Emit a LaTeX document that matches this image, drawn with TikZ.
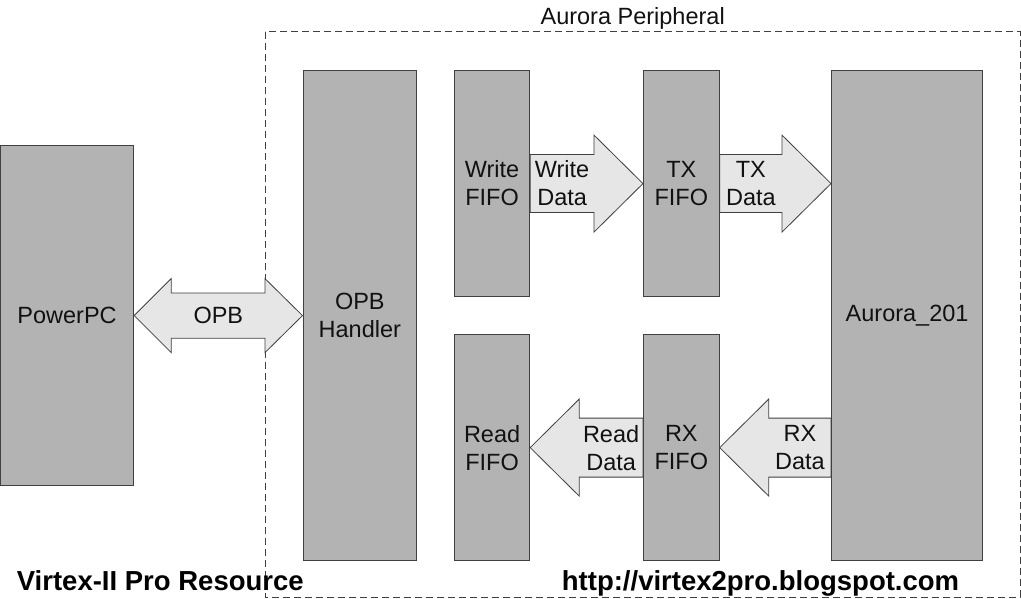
\documentclass[tikz,border=0pt]{standalone}
\usepackage{fontspec}
\setmainfont{Liberation Sans}
\usetikzlibrary{calc,backgrounds}
\definecolor{boxfill}{HTML}{B3B3B3}
\definecolor{arrfill}{HTML}{E6E6E6}
\definecolor{edge}{HTML}{404040}
\definecolor{ink}{HTML}{111111}
\tikzset{
  blk/.style={draw=edge, line width=1.2pt, fill=boxfill, inner sep=0pt, anchor=north west,
    text=ink, align=center, font=\fontsize{23.5}{28}\selectfont},
  barrow/.style={draw=edge, line width=0.8pt, fill=arrfill, line join=miter},
  albl/.style={text=ink, align=center, font=\fontsize{23.5}{28}\selectfont, inner sep=0pt},
  frame/.style={draw=edge, line width=1pt, dash pattern=on 7pt off 4pt},
  foot/.style={text=black, font=\bfseries\fontsize{27.5}{32}\selectfont, inner sep=0pt}
}
\begin{document}
\begin{tikzpicture}[x=1pt,y=-1pt]
\useasboundingbox (0,0) rectangle (1021,599);
% blocks
\node[blk, minimum width=133pt, minimum height=340pt] (ppc) at (0,145) {PowerPC};
\node[blk, minimum width=113.5pt, minimum height=490pt] (opb) at (302.5,70) {OPB\\Handler};
\node[blk, minimum width=75pt, minimum height=226pt] (wf) at (454,70) {Write\\FIFO};
\node[blk, minimum width=75.5pt, minimum height=226pt] (tx) at (643,70) {TX\\FIFO};
\node[blk, minimum width=151pt, minimum height=490pt] (aur) at (831,70) {Aurora\_201};
\node[blk, minimum width=75pt, minimum height=226pt] (rd) at (454,334) {Read\\FIFO};
\node[blk, minimum width=75.5pt, minimum height=226pt] (rx) at (643,334) {RX\\FIFO};
% frame and block arrows behind
\begin{scope}[on background layer]
\draw[frame] (265,32) rectangle (1020,597);
% OPB double arrow
\draw[barrow] let \p1=(ppc.east), \p2=(opb.west) in
  (\x1,\y1) -- (\x1+37pt,\y1+37pt) -- (\x1+37pt,\y1+22.7pt) -- (\x2-37.5pt,\y1+22.7pt)
  -- (\x2-37.5pt,\y1+37pt) -- (\x2,\y1) -- (\x2-37.5pt,\y1-37pt) -- (\x2-37.5pt,\y1-22.7pt)
  -- (\x1+37pt,\y1-22.7pt) -- (\x1+37pt,\y1-37pt) -- cycle
  node[albl] (lopb) at ({(\x1+\x2)/2},\y1) {OPB};
% Write Data
\draw[barrow] let \p1=(wf.east), \p2=(tx.west) in
  (\x1,\y1+29pt) -- (\x2-49pt,\y1+29pt) -- (\x2-49pt,\y1+48.5pt) -- (\x2,\y1)
  -- (\x2-49pt,\y1-48.5pt) -- (\x2-49pt,\y1-29pt) -- (\x1,\y1-29pt) -- cycle
  node[albl] (lwd) at ({(\x1+\x2-49pt)/2},\y1) {Write\\Data};
% TX Data
\draw[barrow] let \p1=(tx.east), \p2=(aur.west |- tx.east) in
  (\x1,\y1+29pt) -- (\x2-49pt,\y1+29pt) -- (\x2-49pt,\y1+48.5pt) -- (\x2,\y1)
  -- (\x2-49pt,\y1-48.5pt) -- (\x2-49pt,\y1-29pt) -- (\x1,\y1-29pt) -- cycle
  node[albl] (ltd) at ({(\x1+\x2-49pt)/2},\y1) {TX\\Data};
% Read Data
\draw[barrow] let \p1=(rx.west), \p2=(rd.east) in
  (\x1,\y1+29.5pt) -- (\x2+49pt,\y1+29.5pt) -- (\x2+49pt,\y1+48.5pt) -- (\x2,\y1)
  -- (\x2+49pt,\y1-48.5pt) -- (\x2+49pt,\y1-29.5pt) -- (\x1,\y1-29.5pt) -- cycle
  node[albl] (lrd) at ({(\x1+\x2+49pt)/2},\y1) {Read\\Data};
% RX Data
\draw[barrow] let \p1=(aur.west |- rx.east), \p2=(rx.east) in
  (\x1,\y1+29.5pt) -- (\x2+49pt,\y1+29.5pt) -- (\x2+49pt,\y1+48.5pt) -- (\x2,\y1)
  -- (\x2+49pt,\y1-48.5pt) -- (\x2+49pt,\y1-29.5pt) -- (\x1,\y1-29.5pt) -- cycle
  node[albl] (lrx) at ({(\x1+\x2+49pt)/2},\y1) {RX\\Data};
\end{scope}
% texts
\node[albl, anchor=base] (title) at (632.7,25) {Aurora Peripheral};
\node[foot, anchor=base west] (src) at (16.7,590) {Virtex-II Pro Resource};
\node[foot, anchor=base west] (url) at (561.7,590) {http://virtex2pro.blogspot.com};
\end{tikzpicture}
\end{document}
